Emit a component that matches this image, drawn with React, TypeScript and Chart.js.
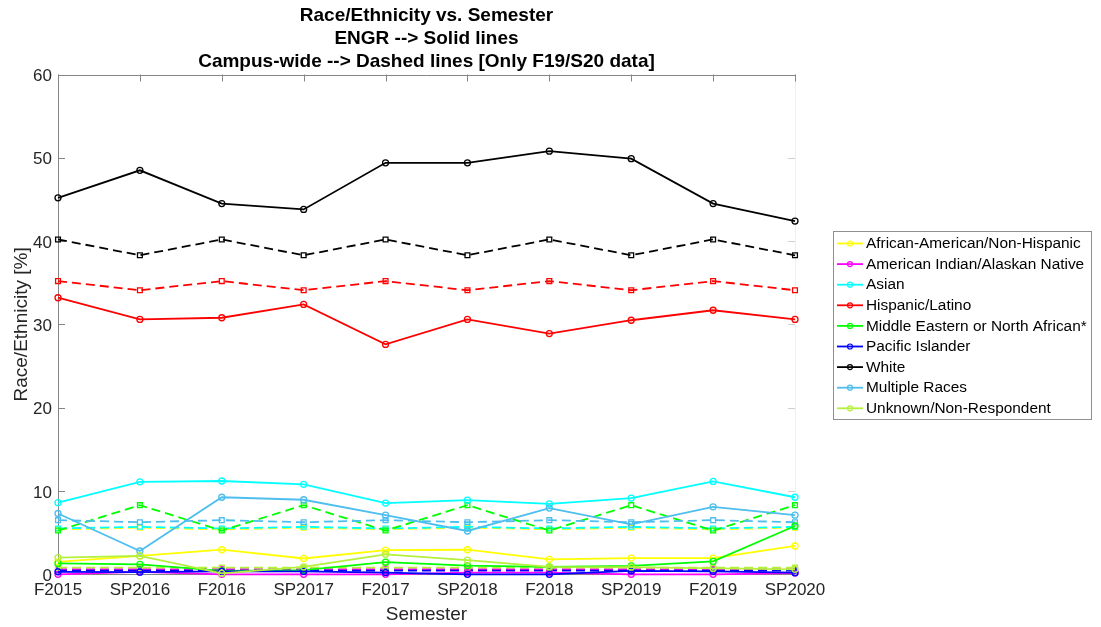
import React, { useEffect, useRef } from 'react';
import { Chart, registerables } from 'chart.js';

Chart.register(...registerables);

// ---------- data ----------
const semesters = ['F2015', 'SP2016', 'F2016', 'SP2017', 'F2017', 'SP2018', 'F2018', 'SP2019', 'F2019', 'SP2020'];
const yTickValues = [0, 10, 20, 30, 40, 50, 60];

const titleLines = ['Race/Ethnicity vs. Semester', 'ENGR --> Solid lines', 'Campus-wide --> Dashed lines [Only F19/S20 data]'];
const xAxisTitle = 'Semester';
const yAxisTitle = 'Race/Ethnicity [%]';

const groups = [
  'African-American/Non-Hispanic',
  'American Indian/Alaskan Native',
  'Asian',
  'Hispanic/Latino',
  'Middle Eastern or North African*',
  'Pacific Islander',
  'White',
  'Multiple Races',
  'Unknown/Non-Respondent',
];
const groupColors = ['#FFFF00', '#FF00FF', '#00FFFF', '#FF0000', '#00FF00', '#0000FF', '#000000', '#4DBEEE', '#B4F03C'];

// ENGR (solid lines)
const engrAfrican = [1.5, 2.2, 2.95, 1.9, 2.9, 2.95, 1.8, 1.95, 1.95, 3.4];
const engrAmIndian = [0.0, 0.3, 0.0, 0.0, 0.0, 0.2, 0.2, 0.0, 0.0, 0.15];
const engrAsian = [8.6, 11.1, 11.2, 10.8, 8.55, 8.9, 8.45, 9.15, 11.15, 9.25];
const engrHispanic = [33.2, 30.6, 30.8, 32.4, 27.6, 30.6, 28.9, 30.5, 31.7, 30.6];
const engrMENA = [1.3, 1.2, 0.4, 0.5, 1.45, 1.05, 0.9, 1.0, 1.55, 5.8];
const engrPacific = [0.3, 0.25, 0.35, 0.35, 0.2, 0.0, 0.0, 0.4, 0.35, 0.2];
const engrWhite = [45.2, 48.5, 44.5, 43.8, 49.4, 49.4, 50.8, 49.9, 44.5, 42.4];
const engrMultiple = [7.3, 2.8, 9.25, 8.95, 7.1, 5.2, 7.95, 6.0, 8.1, 7.1];
const engrUnknown = [2.0, 2.2, 0.1, 0.9, 2.4, 1.7, 0.9, 0.85, 0.7, 0.6];

// Campus-wide (dashed lines)
const campusAfrican = [5.4, 5.6, 5.4, 5.6, 5.4, 5.6, 5.4, 5.6, 5.4, 5.6];
const campusAmIndian = [0.62, 0.62, 0.62, 0.62, 0.62, 0.62, 0.62, 0.62, 0.62, 0.62];
const campusAsian = [5.5, 5.7, 5.5, 5.7, 5.5, 5.7, 5.5, 5.7, 5.5, 5.7];
const campusHispanic = [35.2, 34.1, 35.2, 34.1, 35.2, 34.1, 35.2, 34.1, 35.2, 34.1];
const campusMENA = [5.25, 8.3, 5.25, 8.3, 5.25, 8.3, 5.25, 8.3, 5.25, 8.3];
const campusPacific = [0.45, 0.45, 0.45, 0.45, 0.45, 0.45, 0.45, 0.45, 0.45, 0.45];
const campusWhite = [40.2, 38.3, 40.2, 38.3, 40.2, 38.3, 40.2, 38.3, 40.2, 38.3];
const campusMultiple = [6.5, 6.25, 6.5, 6.25, 6.5, 6.25, 6.5, 6.25, 6.5, 6.25];
const campusUnknown = [0.8, 0.8, 0.8, 0.8, 0.8, 0.8, 0.8, 0.8, 0.8, 0.8];

const engrSeries = [engrAfrican, engrAmIndian, engrAsian, engrHispanic, engrMENA, engrPacific, engrWhite, engrMultiple, engrUnknown];
const campusSeries = [campusAfrican, campusAmIndian, campusAsian, campusHispanic, campusMENA, campusPacific, campusWhite, campusMultiple, campusUnknown];

const FONT = "'Liberation Sans', Arial, Helvetica, sans-serif";

const matlabPlugin = {
  id: 'matlabLook',
  beforeDatasetsDraw(chart: any) {
    const { ctx, chartArea } = chart;
    const { left, right, top, bottom } = chartArea;
    const x = chart.scales.x;
    const y = chart.scales.y;
    const tl = 7;
    ctx.save();
    ctx.lineWidth = 1;
    // right border (faint)
    ctx.strokeStyle = '#efefef';
    ctx.beginPath();
    ctx.moveTo(Math.round(right) + 0.5, top);
    ctx.lineTo(Math.round(right) + 0.5, bottom);
    ctx.stroke();
    // right ticks
    ctx.strokeStyle = '#cfcfcf';
    ctx.beginPath();
    yTickValues.forEach((v) => {
      const py = Math.round(y.getPixelForValue(v)) + 0.5;
      ctx.moveTo(right, py);
      ctx.lineTo(right - tl, py);
    });
    ctx.stroke();
    // left, bottom, top borders
    ctx.strokeStyle = '#858585';
    ctx.beginPath();
    ctx.moveTo(Math.round(left) + 0.5, top);
    ctx.lineTo(Math.round(left) + 0.5, bottom);
    ctx.moveTo(left, Math.round(bottom) + 0.5);
    ctx.lineTo(right, Math.round(bottom) + 0.5);
    ctx.moveTo(left, Math.round(top) + 0.5);
    ctx.lineTo(right, Math.round(top) + 0.5);
    // ticks
    yTickValues.forEach((v) => {
      const py = Math.round(y.getPixelForValue(v)) + 0.5;
      ctx.moveTo(left, py);
      ctx.lineTo(left + tl, py);
    });
    semesters.forEach((_, i) => {
      const px = Math.round(x.getPixelForTick(i)) + 0.5;
      ctx.moveTo(px, bottom);
      ctx.lineTo(px, bottom - tl);
      ctx.moveTo(px, top);
      ctx.lineTo(px, top + tl);
    });
    ctx.stroke();
    ctx.restore();
  },
  afterDraw(chart: any) {
    const { ctx, chartArea } = chart;
    const cx = (chartArea.left + chartArea.right) / 2;
    ctx.save();
    // title
    ctx.fillStyle = '#000';
    ctx.font = `bold 19px ${FONT}`;
    ctx.textAlign = 'center';
    ctx.textBaseline = 'alphabetic';
    titleLines.forEach((t, i) => {
      ctx.fillText(t, cx, 20.5 + i * 23.4);
    });
    // legend
    const lx = 833, ly = 231, lw = 258, lh = 188;
    ctx.fillStyle = '#fff';
    ctx.fillRect(lx, ly, lw, lh);
    ctx.strokeStyle = '#8f8f8f';
    ctx.lineWidth = 1;
    ctx.strokeRect(lx + 0.5, ly + 0.5, lw, lh);
    ctx.font = `15.4px ${FONT}`;
    ctx.textAlign = 'left';
    ctx.textBaseline = 'middle';
    const ds = chart.data.datasets.slice(0, groups.length);
    ds.forEach((d: any, i: number) => {
      const ry = 243.5 + i * 20.6;
      ctx.strokeStyle = d.borderColor;
      ctx.lineWidth = 1.8;
      ctx.beginPath();
      ctx.moveTo(837, ry);
      ctx.lineTo(863, ry);
      ctx.stroke();
      ctx.lineWidth = 1.2;
      ctx.beginPath();
      ctx.arc(850, ry, 2.5, 0, Math.PI * 2);
      ctx.stroke();
      ctx.fillStyle = '#000';
      ctx.fillText(d.label, 866, ry + 0.5);
    });
    ctx.restore();
  },
};

export default function App() {
  const ref = useRef<HTMLCanvasElement>(null);

  useEffect(() => {
    if (!ref.current) return;
    const datasets: any[] = [];
    engrSeries.forEach((vals, i) => {
      datasets.push({
        label: groups[i],
        data: vals,
        borderColor: groupColors[i],
        backgroundColor: groupColors[i],
        borderWidth: 1.8,
        pointStyle: 'circle',
        pointRadius: 3,
        pointHoverRadius: 3,
        pointBorderWidth: 1.3,
        pointBorderColor: groupColors[i],
        pointBackgroundColor: 'rgba(0,0,0,0)',
        fill: false,
        tension: 0,
        clip: false,
        order: 20 - i,
      });
    });
    campusSeries.forEach((vals, i) => {
      datasets.push({
        label: groups[i] + ' (campus-wide)',
        data: vals,
        borderColor: groupColors[i],
        backgroundColor: groupColors[i],
        borderWidth: 1.8,
        borderDash: [9, 5],
        pointStyle: 'rect',
        pointRadius: 3.4,
        pointHoverRadius: 3.4,
        pointBorderWidth: 1.3,
        pointBorderColor: groupColors[i],
        pointBackgroundColor: 'rgba(0,0,0,0)',
        fill: false,
        tension: 0,
        clip: false,
        order: 40 - i,
      });
    });

    const chart = new Chart(ref.current, {
      type: 'line',
      data: { labels: semesters, datasets },
      options: {
        responsive: false,
        animation: false,
        events: [],
        layout: { padding: { left: 0, top: 74.5, right: 306, bottom: 0 } },
        plugins: {
          legend: { display: false },
          title: { display: false },
          tooltip: { enabled: false },
        },
        scales: {
          x: {
            type: 'category',
            offset: false,
            grid: { display: false, drawTicks: false },
            border: { display: false },
            ticks: {
              color: '#262626',
              font: { family: FONT, size: 17 },
              padding: 6,
              maxRotation: 0,
              autoSkip: false,
            },
            title: {
              display: true,
              text: xAxisTitle,
              color: '#262626',
              font: { family: FONT, size: 19 },
              padding: { top: 0, bottom: 1 },
            },
            afterFit: (s: any) => {
              s.height = 52.7;
            },
          },
          y: {
            min: 0,
            max: 60,
            grid: { display: false, drawTicks: false },
            border: { display: false },
            ticks: {
              stepSize: 10,
              color: '#262626',
              font: { family: FONT, size: 17 },
              padding: 6,
              labelOffset: 2,
            },
            title: {
              display: true,
              text: yAxisTitle,
              color: '#262626',
              font: { family: FONT, size: 19 },
              padding: { top: 10, bottom: 0 },
            },
            afterFit: (s: any) => {
              s.width = 58;
            },
          },
        },
      },
      plugins: [matlabPlugin],
    });
    return () => chart.destroy();
  }, []);

  return (
    <canvas
      ref={ref}
      width={1101}
      height={627}
      style={{ position: 'absolute', left: 0, top: 0, display: 'block', background: '#fff' }}
    />
  );
}
